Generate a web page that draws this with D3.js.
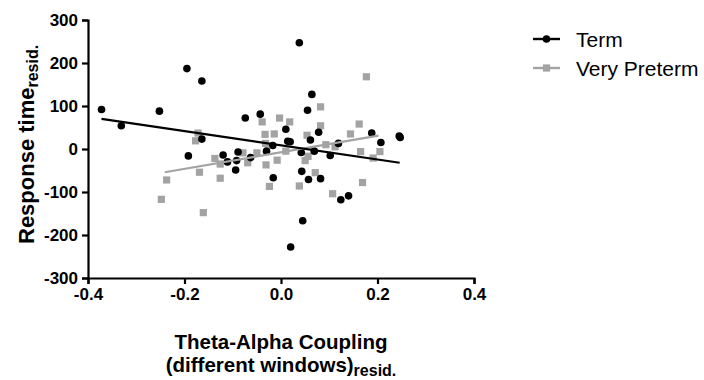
<!DOCTYPE html>
<html>
<head>
<meta charset="utf-8">
<script src="https://cdn.jsdelivr.net/npm/d3@7/dist/d3.min.js"></script>
<style>
  html, body { margin: 0; padding: 0; background: #fff; }
  svg { display: block; font-family: "Liberation Sans", Arial, sans-serif; }
</style>
</head>
<body>
<svg id="chart" width="704" height="380"></svg>
<script>
// Term group: coupling residual (x) and response time residual (y)
const termX = [-0.372, -0.331, -0.252, -0.195, -0.164, -0.164, -0.192, -0.074, -0.043, -0.120,
  -0.111, -0.089, -0.092, -0.094, -0.063, -0.030, -0.017, -0.016, 0.010, 0.014,
  0.019, 0.038, 0.064, 0.055, 0.078, 0.061, 0.042, 0.069, 0.102, 0.119,
  0.043, 0.057, 0.082, 0.124, 0.140, 0.045, 0.020, 0.188, 0.207, 0.245, 0.247];
const termY = [92, 54, 88, 187, 158, 23, -16, 72, 81, -14,
  -30, -7, -27, -49, -20, -5, 8, -67, 46, 18,
  17, 247, 127, 90, 39, 21, -8, -5, -15, 13,
  -52, -71, -69, -118, -109, -167, -228, 37, 15, 30, 27];

// Very Preterm group
const pretermX = [-0.248, -0.237, -0.172, -0.177, -0.169, -0.161, -0.137, -0.126, -0.126, -0.079,
  -0.069, -0.050, -0.039, -0.033, -0.032, -0.031, -0.024, -0.014, -0.008, -0.003,
  0.010, 0.018, 0.054, 0.050, 0.056, 0.071, 0.038, 0.082, 0.082, 0.093,
  0.112, 0.107, 0.144, 0.162, 0.165, 0.169, 0.177, 0.191, 0.205];
const pretermY = [-117, -72, 37, 19, -54, -148, -22, -35, -68, -9,
  -32, -9, 63, 34, 13, -37, -87, 35, -26, 72,
  -5, 63, 32, -27, -17, -55, -86, 98, 54, 10,
  5, -104, 35, 58, -6, -78, 168, -21, -6];

// Linear fits, given as end points [x, y]
const termFit = [[-0.372, 70], [0.246, -32]];
const pretermFit = [[-0.241, -54], [0.202, 31]];

const xTicks = [-0.4, -0.2, 0.0, 0.2, 0.4];
const yTicks = [-300, -200, -100, 0, 100, 200, 300];
const seriesNames = ["Term", "Very Preterm"];
const seriesColors = ["#000000", "#a3a3a3"];

const svg = d3.select("#chart");
const x = d3.scaleLinear().domain([-0.4, 0.4]).range([88, 474]);
const y = d3.scaleLinear().domain([-300, 300]).range([278, 20]);

// Axes
const xAxis = svg.append("g")
  .attr("transform", `translate(0,${y(-300)})`)
  .call(d3.axisBottom(x).tickValues(xTicks).tickFormat(d => d.toFixed(1)).tickSizeOuter(0).tickSize(6).tickPadding(4));
const yAxis = svg.append("g")
  .attr("transform", `translate(${x(-0.4)},0)`)
  .call(d3.axisLeft(y).tickValues(yTicks).tickFormat(d => String(d)).tickSizeOuter(0).tickSize(6).tickPadding(4));

[xAxis, yAxis].forEach(g => {
  g.select(".domain").attr("stroke", "#000").attr("stroke-width", 2.2);
  g.selectAll(".tick line").attr("stroke", "#000").attr("stroke-width", 2.2);
  g.selectAll(".tick text").attr("fill", "#000")
    .style("font-size", "17px").style("font-weight", "bold")
    .style("font-family", "'Liberation Sans', Arial, sans-serif");
});

// Points
const pretermPts = pretermX.map((v, i) => [v, pretermY[i]]);
const termPts = termX.map((v, i) => [v, termY[i]]);
const sq = 7.2;

svg.append("g").selectAll("rect").data(pretermPts).join("rect")
  .attr("x", d => x(d[0]) - sq / 2)
  .attr("y", d => y(d[1]) - sq / 2)
  .attr("width", sq).attr("height", sq)
  .attr("fill", seriesColors[1]);

svg.append("g").selectAll("circle").data(termPts).join("circle")
  .attr("cx", d => x(d[0]))
  .attr("cy", d => y(d[1]))
  .attr("r", 3.8)
  .attr("fill", seriesColors[0]);

// Fit lines
const line = d3.line().x(d => x(d[0])).y(d => y(d[1]));
svg.append("path").datum(pretermFit).attr("d", line)
  .attr("stroke", seriesColors[1]).attr("stroke-width", 2.2).attr("fill", "none");
svg.append("path").datum(termFit).attr("d", line)
  .attr("stroke", seriesColors[0]).attr("stroke-width", 2.2).attr("fill", "none");

// Axis titles
const yTitle = svg.append("text")
  .attr("transform", "translate(34,244) rotate(-90)")
  .attr("font-weight", "bold").attr("font-size", 22).attr("fill", "#000");
yTitle.append("tspan").text("Response time");
yTitle.append("tspan").attr("font-size", 16).attr("dy", 4).text("resid.");

svg.append("text")
  .attr("x", x(0)).attr("y", 349)
  .attr("text-anchor", "middle")
  .attr("font-weight", "bold").attr("font-size", 20.5).attr("fill", "#000")
  .text("Theta-Alpha Coupling");
const xTitle2 = svg.append("text")
  .attr("x", x(0)).attr("y", 372)
  .attr("text-anchor", "middle")
  .attr("font-weight", "bold").attr("font-size", 20.5).attr("fill", "#000");
xTitle2.append("tspan").text("(different windows)");
xTitle2.append("tspan").attr("font-size", 16).attr("dy", 4).text("resid.");

// Legend
const legend = svg.append("g");
seriesNames.forEach((name, i) => {
  const ly = 39 + i * 29;
  const g = legend.append("g");
  g.append("line").attr("x1", 533).attr("x2", 560).attr("y1", ly).attr("y2", ly)
    .attr("stroke", seriesColors[i]).attr("stroke-width", 2.4);
  if (i === 0) {
    g.append("circle").attr("cx", 546.5).attr("cy", ly).attr("r", 3.8).attr("fill", seriesColors[i]);
  } else {
    g.append("rect").attr("x", 546.5 - 3.6).attr("y", ly - 3.6).attr("width", 7.2).attr("height", 7.2)
      .attr("fill", seriesColors[i]);
  }
  g.append("text").attr("x", 576).attr("y", ly + 7.5)
    .attr("font-size", 21).attr("fill", "#000").text(name);
});
</script>
</body>
</html>
